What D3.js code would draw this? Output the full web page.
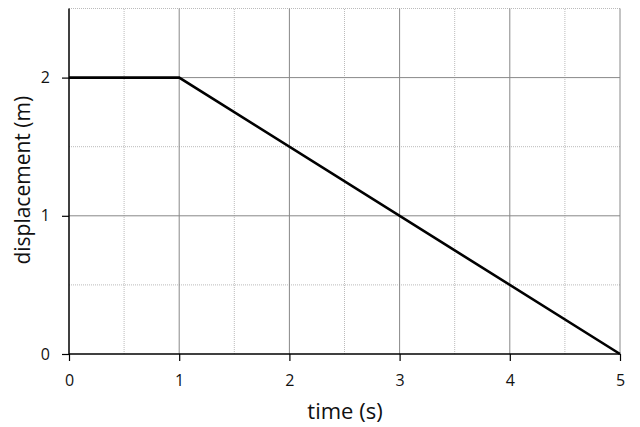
<!DOCTYPE html>
<html><head><meta charset="utf-8">
<script src="https://cdn.jsdelivr.net/npm/d3@7"></script>
<style>body{margin:0;background:#fff}svg{display:block}text{font-family:"Open Sans",Lato,sans-serif}</style>
</head><body>
<svg id="c" width="640" height="427"></svg>
<script>
const timeS = [0, 1, 5];
const dispM = [2, 2, 0];
const xTicks = [0, 1, 2, 3, 4, 5];
const yTicks = [0, 1, 2];
const xMinor = [0.5, 1.5, 2.5, 3.5, 4.5];
const yMinor = [0.5, 1.5, 2.5];

const svg = d3.select("#c");
const x = d3.scaleLinear().domain([0, 5]).range([69, 620]);
const y = d3.scaleLinear().domain([0, 2.5]).range([354, 8.5]);

const g = svg.append("g");
// minor grid
g.selectAll(".mx").data(xMinor).enter().append("line")
  .attr("x1", d => x(d)).attr("x2", d => x(d)).attr("y1", y(0)).attr("y2", y(2.5))
  .attr("stroke", "#bbb").attr("stroke-width", 1).attr("stroke-dasharray", "1,1");
g.selectAll(".my").data(yMinor).enter().append("line")
  .attr("x1", x(0)).attr("x2", x(5)).attr("y1", d => y(d)).attr("y2", d => y(d))
  .attr("stroke", "#bbb").attr("stroke-width", 1).attr("stroke-dasharray", "1,1");
// major grid
g.selectAll(".Mx").data(xTicks.filter(d => d > 0)).enter().append("line")
  .attr("x1", d => x(d)).attr("x2", d => x(d)).attr("y1", y(0)).attr("y2", y(2.5))
  .attr("stroke", "#888").attr("stroke-width", 1);
g.selectAll(".My").data(yTicks.filter(d => d > 0)).enter().append("line")
  .attr("x1", x(0)).attr("x2", x(5)).attr("y1", d => y(d)).attr("y2", d => y(d))
  .attr("stroke", "#888").attr("stroke-width", 1);

// axes
const xa = svg.append("g").attr("transform", `translate(0,${y(0)})`)
  .call(d3.axisBottom(x).tickValues(xTicks).tickSize(7).tickPadding(14).tickFormat(d3.format("d")));
const ya = svg.append("g").attr("transform", `translate(${x(0)},0)`)
  .call(d3.axisLeft(y).tickValues(yTicks).tickSize(7).tickPadding(12).tickFormat(d3.format("d")));
[xa, ya].forEach(a => {
  a.select(".domain").remove();
  a.selectAll(".tick line").attr("stroke", "#000").attr("stroke-width", 1.2);
  a.selectAll(".tick text").attr("fill", "#111").style("font-size", "16px");
});
svg.append("line").attr("x1", x(0)).attr("x2", x(0)).attr("y1", y(0)).attr("y2", y(2.5)).attr("stroke", "#000").attr("stroke-width", 1.5);
svg.append("line").attr("x1", x(0)).attr("x2", x(5)).attr("y1", y(0)).attr("y2", y(0)).attr("stroke", "#000").attr("stroke-width", 1.5);

// data line
svg.append("path").datum(timeS.map((t, i) => [t, dispM[i]]))
  .attr("fill", "none").attr("stroke", "#000").attr("stroke-width", 2.6)
  .attr("d", d3.line().x(d => x(d[0])).y(d => y(d[1])));

// titles
svg.append("text").attr("x", 345).attr("y", 419).attr("text-anchor", "middle")
  .style("font-size", "22px").attr("fill", "#111").text("time (s)");
svg.append("text").attr("transform", `translate(30,${y(1.25) - 1}) rotate(-90)`).attr("text-anchor", "middle")
  .style("font-size", "21px").attr("fill", "#111").text("displacement (m)");
</script>
</body></html>
